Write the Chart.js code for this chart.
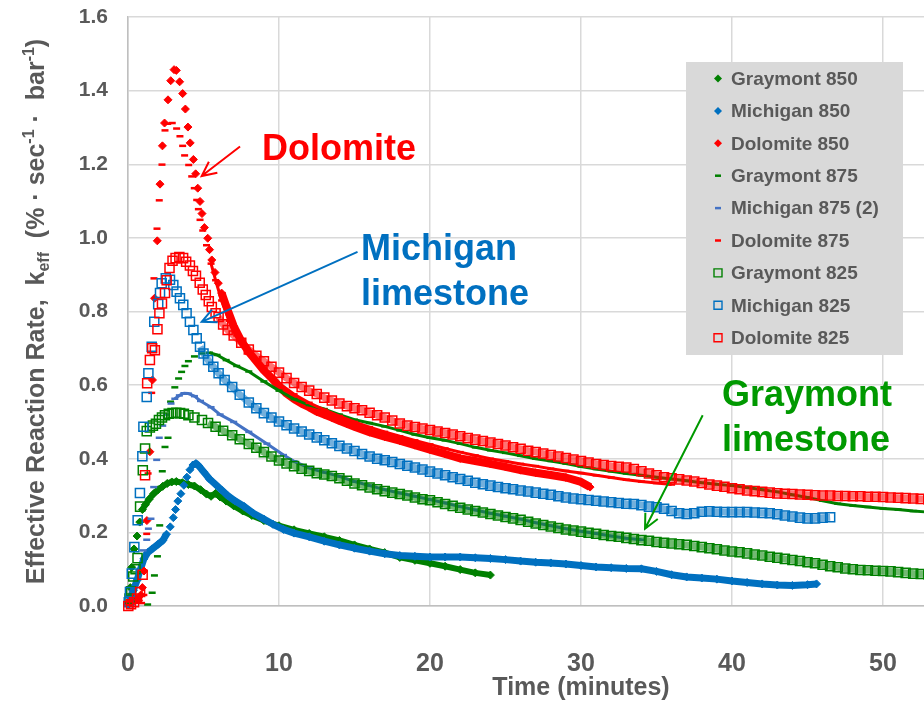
<!DOCTYPE html>
<html>
<head>
<meta charset="utf-8">
<title>Effective Reaction Rate</title>
<script src="https://cdn.jsdelivr.net/npm/chart.js@4.4.1/dist/chart.umd.min.js"></script>
<style>
  html, body { margin: 0; padding: 0; background: #fff; overflow: hidden; }
  #wrap { position: relative; width: 1060px; height: 701px; }
</style>
</head>
<body>
<div id="wrap"><canvas id="chartCanvas" width="1060" height="701"></canvas></div>
<script>
var GREEN = '#008000', BLUE = '#0070C0', RED = '#FF0000', PERI = '#4472C4';
var NOTE_GREEN = '#009900';
var TEXT_GREY = '#595959';

// axis ranges (the original plot runs to 60 min, the picture is cut at ~52)
var xMax = 60, xStep = 10;
var yMax = 1.6, yStep = 0.2;

// [time (min), k_eff]
var graymont850 = [[0.05,0.005],[0.15,0.05],[0.25,0.105],[0.4,0.155],[0.6,0.19],[0.78,0.228],[0.95,0.262],[1.15,0.275],[1.4,0.29],[1.7,0.305],[2.0,0.316],[2.3,0.325],[2.6,0.333],[2.9,0.337],[3.2,0.338],[3.6,0.335],[4.0,0.33],[4.4,0.326],[4.8,0.316],[5.2,0.304],[5.5,0.298],[5.8,0.306],[6.1,0.296],[6.5,0.285],[7.0,0.272],[7.6,0.258],[8.2,0.246],[9.0,0.232],[10,0.218],[11,0.207],[12,0.197],[13,0.188],[14,0.178],[15,0.166],[16,0.155],[17,0.145],[18,0.132],[19,0.124],[20,0.116],[21,0.108],[22,0.099],[23,0.09],[24,0.084]];

var michigan850 = [[0.0,0.005],[0.2,0.025],[0.35,0.042],[0.6,0.07],[0.8,0.097],[1.05,0.128],[1.3,0.145],[1.6,0.155],[2.0,0.168],[2.3,0.178],[2.55,0.195],[2.8,0.215],[3.0,0.24],[3.15,0.262],[3.3,0.285],[3.5,0.305],[3.7,0.328],[3.9,0.35],[4.1,0.37],[4.3,0.383],[4.5,0.387],[4.7,0.38],[5.0,0.365],[5.4,0.345],[5.8,0.33],[6.2,0.315],[6.6,0.3],[7.1,0.285],[7.7,0.27],[8.3,0.252],[9.0,0.236],[9.6,0.222],[10.3,0.208],[11,0.198],[12,0.188],[13,0.176],[14,0.166],[15,0.157],[16,0.149],[17,0.142],[18,0.137],[19,0.135],[20,0.133],[21,0.133],[22,0.133],[23,0.131],[24,0.129],[25,0.126],[26,0.122],[27,0.119],[28,0.117],[29,0.114],[30,0.11],[31,0.106],[32,0.104],[33,0.102],[34,0.101],[35,0.094],[36,0.085],[37,0.079],[38,0.076],[39,0.073],[40,0.068],[41,0.064],[42,0.06],[43,0.057],[44,0.056],[45,0.058],[45.6,0.06]];

var dolomite850 = [[0.0,0.008],[0.2,0.01],[0.4,0.012],[0.55,0.02],[0.7,0.015],[0.85,0.03],[0.95,0.05],[1.06,0.095],[1.25,0.232],[1.45,0.419],[1.62,0.614],[1.76,0.836],[1.94,0.992],[2.12,1.146],[2.28,1.25],[2.42,1.312],[2.65,1.375],[2.83,1.427],[3.05,1.457],[3.2,1.455],[3.42,1.424],[3.62,1.392],[3.8,1.35],[3.97,1.301],[4.12,1.258],[4.33,1.213],[4.48,1.174],[4.62,1.135],[4.77,1.099],[4.9,1.066],[5.06,1.028],[5.28,0.999],[5.4,0.968],[5.55,0.94],[5.76,0.906],[5.98,0.877],[6.2,0.85],[6.5,0.815],[7.0,0.76],[7.5,0.72],[8.0,0.69],[8.5,0.665],[9.0,0.64],[9.5,0.62],[10,0.597],[10.5,0.577],[11,0.562],[11.5,0.55],[12,0.54],[12.5,0.528],[13,0.52],[13.5,0.512],[14,0.503],[14.5,0.495],[15,0.487],[16,0.472],[17,0.46],[18,0.449],[19,0.437],[20,0.425],[21,0.413],[22,0.401],[23,0.394],[24,0.386],[25,0.378],[26,0.369],[27,0.362],[28,0.356],[29,0.349],[30,0.337],[30.6,0.323]];

var graymont875 = [[1.3,0.004],[1.6,0.036],[1.75,0.083],[1.95,0.135],[2.1,0.219],[2.27,0.366],[2.45,0.432],[2.65,0.457],[2.82,0.555],[3.1,0.594],[3.35,0.618],[3.55,0.636],[3.77,0.652],[4.0,0.665],[4.4,0.678],[4.9,0.686],[5.4,0.688],[5.9,0.682],[6.5,0.668],[7.2,0.652],[8.0,0.637],[9.0,0.61],[10,0.585],[11,0.562],[12,0.546],[13,0.535],[14,0.52],[15,0.506],[16,0.497],[17,0.488],[18,0.477],[19,0.466],[20,0.457],[21,0.45],[22,0.441],[23,0.431],[24,0.423],[25,0.416],[26,0.408],[27,0.4],[28,0.394],[29,0.387],[30,0.379],[31,0.372],[32,0.366],[33,0.36],[34,0.355],[35,0.35],[36,0.345],[37,0.34],[38,0.335],[39,0.331],[40,0.327],[41,0.322],[42,0.316],[43,0.31],[44,0.302],[45,0.295],[46,0.286],[47,0.278],[48,0.273],[49,0.269],[50,0.265],[51,0.262],[52,0.258],[53,0.255]];

var michigan875 = [[1.0,0.151],[1.24,0.18],[1.35,0.21],[1.52,0.237],[1.7,0.323],[1.9,0.397],[2.07,0.457],[2.3,0.49],[2.55,0.52],[2.85,0.55],[3.1,0.563],[3.4,0.572],[3.7,0.578],[4.0,0.577],[4.4,0.57],[4.8,0.557],[5.5,0.54],[6.1,0.52],[7.0,0.5],[8.0,0.473],[9.2,0.441],[10.3,0.41],[11,0.393],[12,0.375],[13,0.363],[14,0.352],[15,0.338],[16,0.327],[17,0.316],[18,0.307],[19,0.298],[20,0.289],[21,0.28],[22,0.27],[23,0.261],[24,0.252],[25,0.244],[26,0.236],[27,0.226],[28,0.218],[29,0.21],[30,0.203],[31,0.197],[32,0.19],[33,0.184],[34,0.18]];

var dolomite875 = [[0.9,0.008],[1.05,0.03],[1.24,0.196],[1.33,0.36],[1.57,0.579],[1.72,0.89],[1.92,1.025],[2.07,1.102],[2.25,1.199],[2.45,1.292],[2.63,1.31],[2.93,1.312],[3.22,1.297],[3.44,1.276],[3.62,1.25],[3.75,1.224],[4.02,1.198],[4.22,1.167],[4.39,1.135],[4.55,1.103],[4.66,1.078],[4.77,1.049],[4.95,1.02],[5.2,0.98],[5.5,0.93],[5.8,0.885],[6.2,0.83],[6.7,0.775],[7.2,0.735],[8,0.685],[9,0.645],[10,0.605],[11,0.575],[12,0.552],[13,0.533],[14,0.516],[15,0.5],[16,0.486],[17,0.473],[18,0.461],[19,0.45],[20,0.439],[21,0.428],[22,0.418],[23,0.409],[24,0.4],[25,0.393],[26,0.386],[27,0.38],[28,0.373],[29,0.367],[30,0.361],[31,0.355],[32,0.349],[33,0.343],[34,0.338],[35,0.334],[36,0.33]];

var graymont825 = [[0.1,0.02],[0.2,0.04],[0.35,0.08],[0.5,0.1],[0.63,0.13],[0.8,0.27],[0.98,0.369],[1.13,0.428],[1.24,0.475],[1.45,0.485],[1.65,0.49],[1.85,0.495],[2.05,0.505],[2.25,0.512],[2.45,0.518],[2.7,0.522],[2.95,0.524],[3.2,0.525],[3.45,0.524],[3.7,0.522],[4.0,0.518],[4.4,0.512],[4.9,0.505],[5.3,0.497],[5.8,0.487],[6.3,0.476],[6.9,0.464],[7.4,0.453],[8.0,0.44],[8.5,0.43],[9.0,0.418],[9.5,0.406],[10,0.395],[10.5,0.387],[11,0.38],[11.5,0.373],[12,0.367],[12.5,0.361],[13,0.357],[13.5,0.353],[14,0.347],[14.5,0.34],[15,0.333],[15.5,0.328],[16,0.322],[16.5,0.317],[17,0.312],[17.5,0.308],[18,0.304],[18.5,0.3],[19,0.295],[19.5,0.29],[20,0.287],[20.5,0.282],[21,0.277],[21.5,0.272],[22,0.267],[22.5,0.262],[23,0.258],[23.5,0.254],[24,0.25],[24.5,0.246],[25,0.242],[25.5,0.238],[26,0.234],[26.5,0.229],[27,0.224],[27.5,0.22],[28,0.216],[28.5,0.212],[29,0.208],[29.5,0.205],[30,0.202],[30.5,0.199],[31,0.196],[31.5,0.193],[32,0.19],[32.5,0.188],[33,0.185],[33.5,0.182],[34,0.179],[34.5,0.177],[35,0.174],[35.5,0.172],[36,0.17],[36.5,0.168],[37,0.166],[37.5,0.163],[38,0.16],[38.5,0.157],[39,0.154],[39.5,0.151],[40,0.148],[40.5,0.146],[41,0.143],[41.5,0.14],[42,0.137],[42.5,0.134],[43,0.131],[43.5,0.128],[44,0.125],[44.5,0.122],[45,0.119],[45.5,0.116],[46,0.112],[46.5,0.108],[47,0.105],[47.5,0.102],[48,0.1],[48.5,0.098],[49,0.097],[49.5,0.096],[50,0.095],[50.5,0.094],[51,0.092],[51.5,0.09],[52,0.088],[52.5,0.087],[53,0.086]];

var michigan825 = [[0.05,0.01],[0.13,0.038],[0.25,0.088],[0.42,0.16],[0.64,0.233],[0.79,0.307],[0.95,0.407],[1.02,0.487],[1.24,0.568],[1.35,0.632],[1.57,0.704],[1.74,0.772],[2.0,0.82],[2.12,0.85],[2.23,0.877],[2.5,0.89],[2.78,0.886],[3.0,0.872],[3.22,0.854],[3.44,0.836],[3.66,0.818],[3.88,0.795],[4.1,0.772],[4.33,0.75],[4.55,0.727],[4.77,0.704],[5.0,0.686],[5.3,0.668],[5.65,0.65],[6.0,0.632],[6.4,0.614],[6.9,0.595],[7.4,0.574],[8.0,0.553],[8.5,0.537],[9.0,0.524],[9.5,0.512],[10,0.501],[10.5,0.491],[11,0.482],[11.5,0.474],[12,0.466],[12.5,0.458],[13,0.45],[13.5,0.442],[14,0.435],[14.5,0.428],[15,0.421],[15.5,0.413],[16,0.406],[16.5,0.4],[17,0.396],[17.5,0.391],[18,0.386],[18.5,0.381],[19,0.376],[19.5,0.371],[20,0.365],[20.5,0.36],[21,0.355],[21.5,0.35],[22,0.345],[22.5,0.34],[23,0.335],[23.5,0.331],[24,0.327],[24.5,0.323],[25,0.32],[25.5,0.317],[26,0.314],[26.5,0.311],[27,0.308],[27.5,0.305],[28,0.302],[28.5,0.298],[29,0.295],[29.5,0.292],[30,0.29],[30.5,0.288],[31,0.286],[31.5,0.284],[32,0.282],[32.5,0.28],[33,0.278],[33.5,0.277],[34,0.274],[34.5,0.27],[35,0.268],[35.5,0.264],[36,0.258],[36.5,0.252],[37,0.25],[37.5,0.252],[38,0.256],[38.5,0.257],[39,0.256],[39.5,0.255],[40,0.255],[40.5,0.255],[41,0.255],[41.5,0.254],[42,0.253],[42.5,0.252],[43,0.249],[43.5,0.246],[44,0.243],[44.5,0.24],[45,0.238],[45.5,0.238],[46,0.24],[46.5,0.241]];

var dolomite825 = [[0.02,0.0],[0.2,0.005],[0.4,0.01],[0.6,0.02],[0.8,0.038],[0.97,0.085],[1.13,0.355],[1.27,0.605],[1.45,0.668],[1.6,0.7],[1.78,0.695],[1.95,0.752],[2.08,0.795],[2.25,0.822],[2.45,0.85],[2.56,0.885],[2.75,0.918],[2.95,0.938],[3.15,0.945],[3.4,0.948],[3.65,0.945],[3.85,0.935],[4.1,0.925],[4.3,0.91],[4.5,0.897],[4.75,0.878],[4.95,0.86],[5.15,0.845],[5.35,0.828],[5.55,0.812],[5.8,0.795],[6.0,0.785],[6.3,0.765],[6.6,0.75],[7.0,0.735],[7.5,0.715],[8.0,0.697],[8.5,0.68],[9.0,0.665],[9.5,0.65],[10,0.634],[10.5,0.619],[11,0.606],[11.5,0.595],[12,0.585],[12.5,0.576],[13,0.566],[13.5,0.558],[14,0.55],[14.5,0.543],[15,0.537],[15.5,0.532],[16,0.525],[16.5,0.518],[17,0.512],[17.5,0.504],[18,0.496],[18.5,0.49],[19,0.486],[19.5,0.482],[20,0.478],[20.5,0.474],[21,0.47],[21.5,0.466],[22,0.461],[22.5,0.456],[23,0.452],[23.5,0.448],[24,0.444],[24.5,0.44],[25,0.436],[25.5,0.431],[26,0.427],[26.5,0.422],[27,0.418],[27.5,0.414],[28,0.41],[28.5,0.406],[29,0.402],[29.5,0.398],[30,0.394],[30.5,0.39],[31,0.386],[31.5,0.383],[32,0.38],[32.5,0.378],[33,0.376],[33.5,0.372],[34,0.366],[34.5,0.36],[35,0.355],[35.5,0.35],[36,0.347],[36.5,0.344],[37,0.341],[37.5,0.338],[38,0.334],[38.5,0.33],[39,0.327],[39.5,0.324],[40,0.32],[40.5,0.317],[41,0.314],[41.5,0.312],[42,0.31],[42.5,0.308],[43,0.306],[43.5,0.305],[44,0.304],[44.5,0.303],[45,0.302],[45.5,0.301],[46,0.3],[46.5,0.3],[47,0.299],[47.5,0.299],[48,0.298],[48.5,0.298],[49,0.297],[49.5,0.297],[50,0.296],[50.5,0.295],[51,0.294],[51.5,0.293],[52,0.292],[52.5,0.291],[53,0.29]];

// gap = x-range (min) where the markers stand apart and no connecting band is drawn
var seriesList = [
    { label: 'Graymont 850', points: graymont850, color: GREEN, marker: 'diamond', band: 6, gap: [0, 0.9] },
    { label: 'Michigan 850', points: michigan850, color: BLUE, marker: 'diamond', band: 7, gap: [2.5, 4.3] },
    { label: 'Dolomite 850', points: dolomite850, color: RED, marker: 'diamond', band: 8, gap: [0, 6.1] },
    { label: 'Graymont 875', points: graymont875, color: GREEN, marker: 'dash', band: 3, gap: [0, 5.3] },
    { label: 'Michigan 875 (2)', points: michigan875, color: PERI, marker: 'dash', band: 3, gap: [0, 3.0] },
    { label: 'Dolomite 875', points: dolomite875, color: RED, marker: 'dash', band: 3, gap: [0, 5.4] },
    { label: 'Graymont 825', points: graymont825, color: GREEN, marker: 'square', band: 7, gap: [0, 5.0] },
    { label: 'Michigan 825', points: michigan825, color: BLUE, marker: 'square', band: 7, gap: [0, 4.6] },
    { label: 'Dolomite 825', points: dolomite825, color: RED, marker: 'square', band: 7, gap: [0, 6.0] }
];

var yTitleParts = [
    ['Effective Reaction Rate,  k', 0],
    ['eff', 1],
    ['  (% \u00b7 sec', 0],
    ['-1', -1],
    [' \u00b7  bar', 0],
    ['-1', -1],
    [')', 0]
];

var notes = [
    { lines: ['Dolomite'], x: 8.87, y: 1.212, color: RED, from: [7.42, 1.248], to: [4.88, 1.168] },
    { lines: ['Michigan', 'limestone'], x: 15.43, y: 0.94, color: BLUE, from: [15.2, 0.962], to: [4.88, 0.772] },
    { lines: ['Graymont', 'limestone'], x: 39.34, y: 0.543, color: NOTE_GREEN, from: [38.06, 0.518], to: [34.24, 0.21] }
];

function withAlpha(hex, a) {
    var n = parseInt(hex.slice(1), 16);
    return 'rgba(' + (n >> 16) + ',' + ((n >> 8) & 255) + ',' + (n & 255) + ',' + a + ')';
}

function buildDataset(s, i) {
    var ds = {
        label: s.label,
        data: s.points.map(function (p) { return { x: p[0], y: p[1] }; }),
        order: seriesList.length - i,
        clip: false,
        borderColor: s.color,
        backgroundColor: s.color,
        pointBorderColor: s.color,
        showLine: false
    };
    if (s.marker === 'diamond') {
        ds.pointStyle = 'rectRot';
        ds.pointRadius = 4;
        ds.pointBorderWidth = 1;
        ds.pointBackgroundColor = s.color;
    } else if (s.marker === 'dash') {
        ds.pointStyle = 'line';
        ds.pointRadius = 3.5;
        ds.pointBorderWidth = 2.5;
    } else {
        // hollow squares; the dense tail reads as a striped band between the square edges
        ds.pointStyle = 'rect';
        ds.pointRadius = 6.4;
        ds.pointBorderWidth = 1.5;
        ds.pointBackgroundColor = 'rgba(0,0,0,0)';
        ds.borderColor = withAlpha(s.color, 0.55);
    }
    ds.pointHoverRadius = ds.pointRadius;
    if (s.band) {
        ds.showLine = true;
        ds.borderWidth = s.band;
        ds.borderJoinStyle = 'round';
        ds.borderCapStyle = 'butt';
        ds.segment = {
            borderColor: function (ctx) {
                var x = ctx.p0.parsed.x;
                return (x >= s.gap[0] && x < s.gap[1]) ? 'rgba(0,0,0,0)' : undefined;
            }
        };
    }
    return ds;
}

function drawMarker(ctx, kind, color, x, y) {
    ctx.save();
    ctx.strokeStyle = color;
    ctx.fillStyle = color;
    ctx.beginPath();
    if (kind === 'diamond') {
        ctx.moveTo(x - 4, y); ctx.lineTo(x, y - 4); ctx.lineTo(x + 4, y); ctx.lineTo(x, y + 4);
        ctx.closePath(); ctx.fill();
    } else if (kind === 'dash') {
        ctx.lineWidth = 2.5;
        ctx.moveTo(x - 3, y); ctx.lineTo(x + 3, y); ctx.stroke();
    } else {
        ctx.lineWidth = 1.4;
        ctx.rect(x - 4, y - 4, 8, 8); ctx.stroke();
    }
    ctx.restore();
}

var yTitlePlugin = {
    id: 'yTitle',
    afterDraw: function (chart) {
        var ctx = chart.ctx, area = chart.chartArea;
        var big = 'bold 25px "Liberation Sans", Arial, sans-serif';
        var small = 'bold 16px "Liberation Sans", Arial, sans-serif';
        ctx.save();
        var total = 0;
        yTitleParts.forEach(function (p) {
            ctx.font = p[1] ? small : big;
            total += ctx.measureText(p[0]).width;
        });
        ctx.translate(35, (area.top + area.bottom) / 2);
        ctx.rotate(-Math.PI / 2);
        ctx.fillStyle = TEXT_GREY;
        ctx.textBaseline = 'alphabetic';
        ctx.textAlign = 'left';
        var pos = -total / 2;
        yTitleParts.forEach(function (p) {
            ctx.font = p[1] ? small : big;
            var dy = p[1] === 1 ? 5 : (p[1] === -1 ? -10 : 0);
            ctx.fillText(p[0], pos, 9 + dy);
            pos += ctx.measureText(p[0]).width;
        });
        ctx.restore();
    }
};

var notesPlugin = {
    id: 'notes',
    afterDatasetsDraw: function (chart) {
        var ctx = chart.ctx, xs = chart.scales.x, ys = chart.scales.y;
        ctx.save();
        notes.forEach(function (n) {
            var x1 = xs.getPixelForValue(n.from[0]), y1 = ys.getPixelForValue(n.from[1]);
            var x2 = xs.getPixelForValue(n.to[0]), y2 = ys.getPixelForValue(n.to[1]);
            var ang = Math.atan2(y2 - y1, x2 - x1);
            ctx.strokeStyle = n.color;
            ctx.lineWidth = 2;
            ctx.beginPath();
            ctx.moveTo(x1, y1); ctx.lineTo(x2, y2);
            ctx.moveTo(x2 - 16 * Math.cos(ang - 0.45), y2 - 16 * Math.sin(ang - 0.45));
            ctx.lineTo(x2, y2);
            ctx.lineTo(x2 - 16 * Math.cos(ang + 0.45), y2 - 16 * Math.sin(ang + 0.45));
            ctx.stroke();

            ctx.fillStyle = n.color;
            ctx.font = 'bold 36px "Liberation Sans", Arial, sans-serif';
            ctx.textAlign = 'left';
            ctx.textBaseline = 'alphabetic';
            var tx = xs.getPixelForValue(n.x), ty = ys.getPixelForValue(n.y);
            n.lines.forEach(function (line, k) {
                ctx.fillText(line, tx, ty + k * 45);
            });
        });
        ctx.restore();
    }
};

var legendPlugin = {
    id: 'boxLegend',
    afterDraw: function (chart) {
        var ctx = chart.ctx;
        ctx.save();
        ctx.fillStyle = '#d9d9d9';
        ctx.fillRect(686, 62, 217, 293);
        ctx.font = 'bold 19px "Liberation Sans", Arial, sans-serif';
        ctx.textBaseline = 'middle';
        ctx.textAlign = 'left';
        seriesList.forEach(function (s, i) {
            var y = 78.5 + i * 32.4;
            drawMarker(ctx, s.marker, s.color, 718, y);
            ctx.fillStyle = TEXT_GREY;
            ctx.fillText(s.label, 731, y + 1);
        });
        ctx.restore();
    }
};

var ctx = document.getElementById('chartCanvas').getContext('2d');
var myChart = new Chart(ctx, {
    type: 'scatter',
    data: { datasets: seriesList.map(buildDataset) },
    plugins: [notesPlugin, yTitlePlugin, legendPlugin],
    options: {
        responsive: false,
        animation: false,
        events: [],
        layout: { padding: { top: 17, right: 26, bottom: 0, left: 0 } },
        plugins: {
            legend: { display: false },
            tooltip: { enabled: false }
        },
        scales: {
            x: {
                type: 'linear',
                min: 0,
                max: xMax,
                afterFit: function (scale) {
                    scale.height = 95;
                    scale.paddingLeft = 0;
                    scale.paddingRight = 0;
                },
                grid: { color: '#d9d9d9', lineWidth: 1.5, drawTicks: false },
                border: { color: '#bfbfbf', width: 1.5 },
                ticks: {
                    stepSize: xStep,
                    padding: 43,
                    color: TEXT_GREY,
                    font: { family: '"Liberation Sans", Arial, sans-serif', size: 25, weight: 'bold' }
                },
                title: {
                    display: true,
                    text: 'Time (minutes)',
                    color: TEXT_GREY,
                    padding: { top: 0, bottom: 0 },
                    font: { family: '"Liberation Sans", Arial, sans-serif', size: 25, weight: 'bold', lineHeight: 1.0 }
                }
            },
            y: {
                type: 'linear',
                min: 0,
                max: yMax,
                afterFit: function (scale) {
                    scale.width = 128;
                    scale.paddingTop = 0;
                    scale.paddingBottom = 0;
                },
                grid: { color: '#d9d9d9', lineWidth: 1.5, drawTicks: false },
                border: { color: '#bfbfbf', width: 1.5 },
                ticks: {
                    stepSize: yStep,
                    padding: 20,
                    color: TEXT_GREY,
                    font: { family: '"Liberation Sans", Arial, sans-serif', size: 21, weight: 'bold' },
                    callback: function (v) { return v.toFixed(1); }
                }
            }
        }
    }
});
</script>
</body>
</html>
